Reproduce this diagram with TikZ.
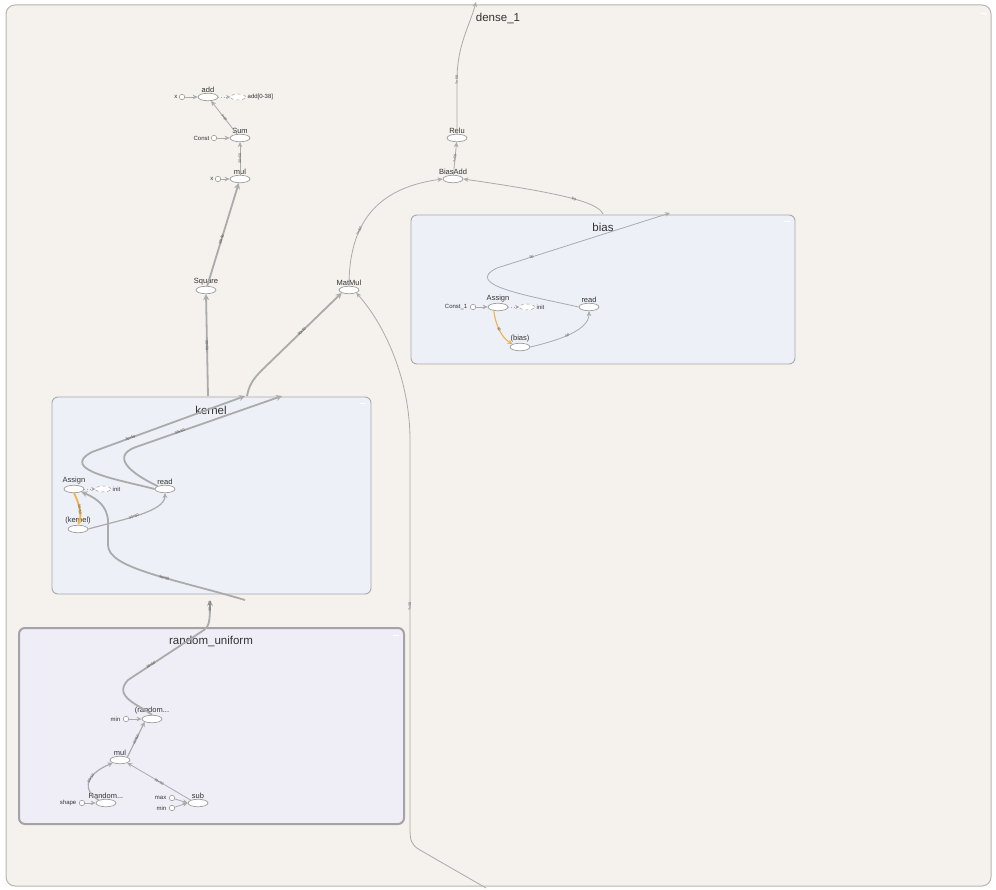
\documentclass[tikz,border=0pt]{standalone}
\usepackage{fontspec}
\setmainfont{Liberation Sans}
\usetikzlibrary{shapes.geometric,arrows.meta}
\definecolor{framebg}{HTML}{F5F1EC}
\definecolor{frameln}{HTML}{B8B6B3}
\definecolor{grpbg}{HTML}{EDF0F7}
\definecolor{grpln}{HTML}{A9A9AE}
\definecolor{rndbg}{HTML}{EFEDF6}
\definecolor{rndln}{HTML}{A3A3A8}
\definecolor{edg}{HTML}{ABABAB}
\definecolor{opln}{HTML}{9E9E9E}
\definecolor{orng}{HTML}{F0B34A}
\definecolor{txt}{HTML}{333333}
\begin{document}
\begin{tikzpicture}[x=1pt,y=-1pt,
  op/.style={ellipse,draw=opln,fill=white,line width=0.7pt,minimum width=20pt,minimum height=7.5pt,inner sep=0pt},
  dop/.style={ellipse,draw=opln,dashed,fill=white,line width=0.5pt,minimum width=15pt,minimum height=6pt,inner sep=0pt},
  cst/.style={circle,draw=opln,fill=white,line width=0.6pt,minimum size=5.5pt,inner sep=0pt},
  lbl/.style={font=\fontsize{7.5}{8}\selectfont,text=txt,inner sep=0.5pt},
  slbl/.style={font=\fontsize{6}{7}\selectfont,text=txt,inner sep=0.5pt},
  ttl/.style={font=\fontsize{11.5}{13}\selectfont,text=txt,inner sep=0pt},
  ed/.style={draw=edg,line width=0.8pt,-{Stealth[length=5pt,width=4.5pt]}},
  edk/.style={draw=edg,line width=1.8pt,-{Stealth[length=6pt,width=6pt]}},
  edm/.style={draw=edg,line width=1.2pt,-{Stealth[length=5pt,width=5pt]}},
  dot/.style={draw=edg,line width=0.7pt,dotted,-{Stealth[length=4pt,width=4pt]}},
  elab/.style={font=\fontsize{3.6}{4}\selectfont,text=gray!60!black,sloped,inner sep=0.3pt},
  grp/.style={draw=grpln,fill=grpbg,line width=0.9pt,rounded corners=6pt},
  minus/.style={draw=white,line width=1pt}
]
\useasboundingbox (0,0) rectangle (996,890);
\fill[white] (0,0) rectangle (996,890);
% outer frame
\draw[draw=frameln,fill=framebg,line width=1pt,rounded corners=9pt] (6,5) rectangle (991,886);
\draw[minus] (981,14) -- (987,14);
\node[ttl] (tdense) at (498,18) {dense\_1};

% groups
\draw[grp] (411,215) rectangle (795,364);
\draw[minus] (784,222) -- (790,222);
\node[ttl] (tbias) at (603,227) {bias};
\draw[grp] (52,397) rectangle (371,594);
\draw[minus] (360,404) -- (366,404);
\node[ttl] (tkernel) at (211,410) {kernel};
\draw[draw=rndln,fill=rndbg,line width=2pt,rounded corners=6pt] (19,628) rectangle (404,824);
\draw[minus] (393,635) -- (399,635);
\node[ttl] (trnd) at (211,641) {random\_uniform};

% ---------- top-left ops
\node[op,label={[lbl]above:add}] (add) at (208,97) {};
\node[cst] (x1) at (182,97) {};
\node[slbl,anchor=east] (x1l) at (178,97) {x};
\node[dop] (addout) at (238,97) {};
\node[slbl,anchor=west] (addoutl) at (247,97) {add[0-38]};
\node[op,label={[lbl]above:Sum}] (sum) at (240,138) {};
\node[cst] (cst0) at (214,138) {};
\node[slbl,anchor=east] (cst0l) at (210,138) {Const};
\node[op,label={[lbl]above:mul}] (mul0) at (240,179) {};
\node[cst] (x2) at (218,179) {};
\node[slbl,anchor=east] (x2l) at (214,179) {x};
\node[op,label={[lbl]above:Square}] (square) at (206,290) {};
\node[op,label={[lbl]above:MatMul}] (matmul) at (349,290) {};
\node[op,label={[lbl]above:BiasAdd}] (biasadd) at (453,179) {};
\node[op,label={[lbl]above:Relu}] (relu) at (457,138) {};

\draw[ed] (x1) -- (add);
\draw[dot] (add) -- (addout);
\draw[ed] (cst0) -- (sum);
\draw[ed] (x2) -- (mul0);
\draw[ed] (sum) -- node[elab]{?×50} (add);
\draw[ed] (mul0) -- node[elab]{30×50} (sum);
\draw[edk] (square) -- node[elab,pos=0.45]{30×50} (mul0);
\draw[ed] (biasadd) -- node[elab]{?×50} (relu);
\coordinate (topout) at (476,2);
\draw[ed] (relu.north) -- (457,80) .. controls (457,45) and (470,25) .. node[elab,pos=0]{?×50} (topout);
\draw[ed] (matmul.north) .. controls (349,225) and (375,188) .. node[elab,pos=0.35]{?×50} (biasadd.west);

% ---------- bias group
\node[op,label={[lbl]above:Assign}] (bAssign) at (498,307) {};
\node[cst] (bConst) at (473,307) {};
\node[slbl,anchor=east] (bConstl) at (468,307) {Const\_1};
\node[dop] (bInit) at (527,307) {};
\node[slbl,anchor=west] (bInitl) at (536,307) {init};
\node[op,label={[lbl]above:read}] (bRead) at (589,307) {};
\node[op,label={[lbl]above:(bias)}] (bVar) at (520,347) {};
\draw[ed] (bConst) -- (bAssign);
\draw[dot] (bAssign) -- (bInit);
\draw[draw=orng,line width=1.1pt,-{Stealth[length=5pt,width=4.5pt]}] (bAssign.south west) ++(3,0) .. controls (496,330) and (505,340) .. node[elab,pos=0.4]{50} (bVar.north west);
\draw[ed] (bVar.east) .. controls (560,340) and (589,330) .. node[elab,pos=0.45]{50} (bRead.south);
\coordinate (bTop) at (670,213);
\draw[ed] (bRead.west) .. controls (530,296) and (462,285) .. (497,268) -- node[elab,pos=0.2]{50} (bTop);
\coordinate (bOut) at (603,214);
\draw[ed] (bOut) .. controls (598,202) and (560,193) .. node[elab,pos=0.45]{50} (biasadd.east);

% ---------- kernel group
\node[op,label={[lbl]above:Assign}] (kAssign) at (74,489) {};
\node[dop] (kInit) at (103,489) {};
\node[slbl,anchor=west] (kInitl) at (112,489) {init};
\node[op,label={[lbl]above:read}] (kRead) at (165,489) {};
\node[op,label={[lbl]above:(kernel)}] (kVar) at (78,529) {};
\draw[dot] (kAssign) -- (kInit);
\draw[draw=orng,line width=1.8pt,-{Stealth[length=5pt,width=5pt]}] (kAssign.south) .. controls (80,505) and (82,515) .. node[elab]{30×50} (kVar.north);
\draw[edm] (kVar.east) .. controls (120,520) and (165,512) .. node[elab,pos=0.45]{30×50} (kRead.south);
\coordinate (kTop1) at (245,396);
\coordinate (kTop2) at (282,396);
\draw[edk] (kRead.west) .. controls (120,480) and (58,470) .. (92,452) -- node[elab,pos=0.25]{30×50} (kTop1);
\draw[edk] (kRead.north west) .. controls (140,478) and (106,458) .. (136,447) -- node[elab,pos=0.3]{30×50} (kTop2);
\coordinate (kOutSq) at (208,396);
\coordinate (kOutMM) at (247,396);
\draw[edk] (kOutSq) -- node[elab]{30×50} (square.south);
\draw[edk] (kOutMM) .. controls (249,386) and (252,380) .. (262,370) -- node[elab]{30×50} (matmul.south west);
\coordinate (kIn) at (245,600);
\draw[edk] (kIn) .. controls (170,578) and (108,568) .. node[elab,pos=0.4]{30×50} (108,545) -- (108,522) .. controls (108,506) and (96,498) .. (kAssign.south east);

% ---------- random_uniform group
\node[op,label={[lbl]above:(random...}] (rRand) at (152,719) {};
\node[cst] (rMinA) at (126,719) {};
\node[slbl,anchor=east] (rMinAl) at (121,719) {min};
\node[op,label={[lbl]above:mul}] (rMul) at (120,760) {};
\node[op,label={[lbl]above:Random...}] (rRandom) at (106,803) {};
\node[cst] (rShape) at (82,803) {};
\node[slbl,anchor=east] (rShapel) at (77,803) {shape};
\node[op,label={[lbl]above:sub}] (rSub) at (198,803) {};
\node[cst] (rMax) at (172,798) {};
\node[slbl,anchor=east] (rMaxl) at (167,798) {max};
\node[cst] (rMinB) at (172,808) {};
\node[slbl,anchor=east] (rMinBl) at (167,808) {min};
\draw[ed] (rMinA) -- (rRand);
\draw[ed] (rShape) -- (rRandom);
\draw[ed] (rMax) -- (rSub.west);
\draw[ed] (rMinB) -- (rSub.west);
\draw[ed] (rSub.north west) -- node[elab]{30×50} (rMul.south east);
\draw[edm] (rRandom.north west) .. controls (84,792) and (82,776) .. node[elab,pos=0.62]{30×50} (rMul.south west);
\draw[edm] (rMul.north east) -- node[elab]{30×50} (rRand.south west);
\coordinate (rOut) at (210,600);
\draw[edk] (rRand.north) .. controls (140,705) and (112,697) .. (128,680) -- node[elab,pos=0.3]{30×50} (204,630) .. controls (209,626) and (210,622) .. node[elab,pos=0.9]{30×50} (rOut);

% ---------- long input edge into MatMul
\coordinate (mmIn) at (486,888);
\draw[ed] (mmIn) -- (420,850) .. controls (411,845) and (410,840) .. (410,828) -- node[elab,pos=0.57]{?×30} (410,440) .. controls (410,380) and (385,325) .. (matmul.south east);
\end{tikzpicture}
\end{document}
